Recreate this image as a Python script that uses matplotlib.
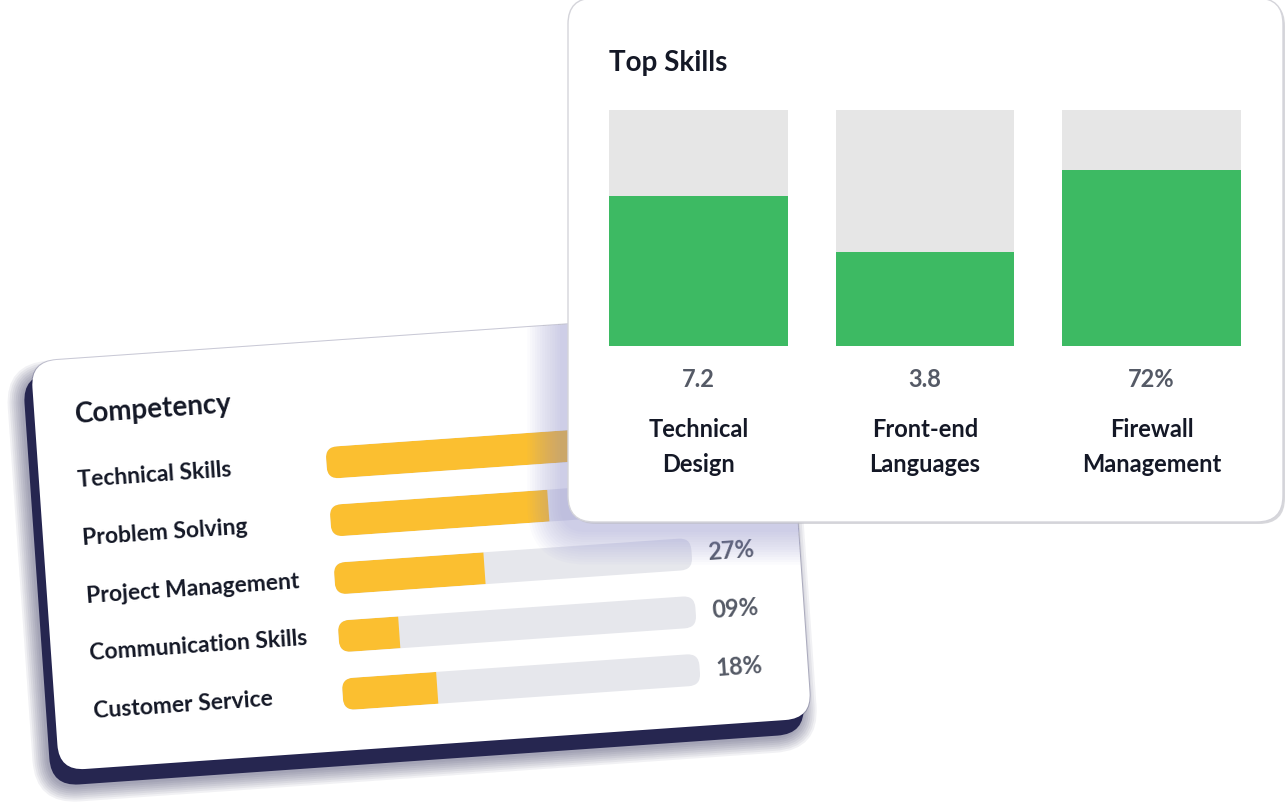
import matplotlib
matplotlib.use("Agg")
import matplotlib.pyplot as plt
from matplotlib.patches import FancyBboxPatch
from matplotlib.transforms import Affine2D

plt.rcParams["font.family"] = ["Lato", "DejaVu Sans"]

# Competency card
comp_skills = ["Technical Skills", "Problem Solving", "Project Management",
               "Communication Skills", "Customer Service"]
comp_fill = [0.72, 0.61, 0.42, 0.17, 0.265]
comp_labels = ["72%", "61%", "27%", "09%", "18%"]

# Top Skills card
top_skills = ["Technical\nDesign", "Front-end\nLanguages", "Firewall\nManagement"]
top_fill = [0.636, 0.40, 0.746]
top_labels = ["7.2", "3.8", "72%"]

YELLOW = "#fbbf30"
TRACK = "#e6e7ec"
GREEN = "#3dba63"
TRACK2 = "#e6e6e6"
DARK = "#141826"
GREY = "#555a66"

W, H = 1286, 805
fig = plt.figure(figsize=(W / 100, H / 100), dpi=100)
fig.patch.set_facecolor("white")


def px_rect(x0, y0, x1, y1):
    return [x0 / W, 1 - y1 / H, (x1 - x0) / W, (y1 - y0) / H]


def canvas_axes():
    a = fig.add_axes([0, 0, 1, 1])
    a.set_xlim(0, W)
    a.set_ylim(H, 0)
    a.axis("off")
    a.patch.set_alpha(0)
    return a


def white_card(a, x, y, w, h, tf, r=26, ec="none", lw=0):
    p = FancyBboxPatch((x, y), w, h, boxstyle=f"round,pad=0,rounding_size={r}",
                       fc="white", ec=ec, lw=lw, transform=tf, clip_on=False)
    a.add_patch(p)
    return p


# ---- Competency card (tilted) ----
ANGLE = 4.0
CX, CY = 421, 540
rot = Affine2D().rotate_deg_around(CX, H - CY, ANGLE)

canvas = canvas_axes()
card_tf = canvas.transData + rot
# faint outline and soft halo
canvas.add_patch(FancyBboxPatch((44, 335), 754, 410, boxstyle="round,pad=1,rounding_size=27",
                                fc="#c9c9d6", ec="none", transform=card_tf))
for k in range(8):
    g = 2 + k * 2
    canvas.add_patch(FancyBboxPatch((34, 351), 754, 410,
                                    boxstyle=f"round,pad={g},rounding_size={28 + g}",
                                    fc="#1b1b48", ec="none", alpha=0.06, transform=card_tf))
canvas.add_patch(FancyBboxPatch((36, 349), 754, 410, boxstyle="round,pad=1,rounding_size=28",
                                fc="#1b1b48", ec="none", alpha=0.92, transform=card_tf))
comp_card = white_card(canvas, 44, 335, 754, 410, card_tf)
canvas.text(85, 391, "Competency", transform=card_tf, rotation=ANGLE, rotation_mode="anchor",
            ha="left", va="center", fontsize=20, fontweight="bold", color=DARK)

ax_comp = fig.add_axes(px_rect(332, 427.6, 690, 717.6))
ax_comp.axis("off")
comp_tf = ax_comp.transData + rot
bar_h = 0.55
aspect = (1 / 58) / (1 / 358)
for i, (name, lab) in enumerate(zip(comp_skills, comp_labels)):
    track = FancyBboxPatch((0, i - bar_h / 2), 1.0, bar_h,
                           boxstyle="round,pad=0,rounding_size=0.0335",
                           mutation_aspect=aspect, fc=TRACK, ec="none",
                           transform=comp_tf, clip_on=False)
    ax_comp.add_patch(track)
    bar = ax_comp.barh(i, comp_fill[i], height=bar_h, color=YELLOW, transform=comp_tf)[0]
    bar.set_clip_path(track)
    bar.set_clip_box(None)
    ax_comp.text(-0.696, i, name, transform=comp_tf, rotation=ANGLE, rotation_mode="anchor",
                 ha="left", va="center", fontsize=16.5, fontweight="bold", color=DARK)
    ax_comp.text(1.11, i, lab, transform=comp_tf, rotation=ANGLE, rotation_mode="anchor",
                 ha="center", va="center", fontsize=17, fontweight="bold", color=GREY)
ax_comp.set_xlim(0, 1)
ax_comp.set_ylim(4.5, -0.5)

# ---- Top Skills card ----
canvas2 = canvas_axes()
# lavender shadow, only falling on the competency card
for k in range(14):
    g = k * 2.5
    s = FancyBboxPatch((560, 8), 715, 524, boxstyle=f"round,pad={g},rounding_size={26 + g}",
                       fc="#8f8fd0", ec="none", alpha=0.035, transform=canvas2.transData)
    canvas2.add_patch(s)
    s.set_clip_path(comp_card)
    s.set_clip_box(None)
# grey drop edge on the right / bottom
canvas2.add_patch(FancyBboxPatch((570, 0), 715, 524, boxstyle="round,pad=0,rounding_size=26",
                                 fc="#bdbdc4", ec="none", alpha=0.6, clip_on=False))
white_card(canvas2, 568, -2, 715, 524, canvas2.transData, ec="#d4d4da", lw=1.0)
canvas2.text(609, 63, "Top Skills", ha="left", va="center", fontsize=20,
             fontweight="bold", color=DARK)

ax_top = fig.add_axes(px_rect(609, 110, 1241, 346))
x = range(len(top_skills))
ax_top.bar(x, [1] * len(top_skills), width=0.79, color=TRACK2)
ax_top.bar(x, top_fill, width=0.79, color=GREEN)
ax_top.set_xlim(-0.395, len(top_skills) - 1 + 0.395)
ax_top.set_ylim(0, 1)
ax_top.axis("off")
for i, (name, lab) in enumerate(zip(top_skills, top_labels)):
    ax_top.text(i, -0.14, lab, ha="center", va="center", fontsize=17,
                fontweight="bold", color=GREY)
    for j, line in enumerate(name.split("\n")):
        ax_top.text(i, -0.352 - 0.152 * j, line, ha="center", va="center",
                    fontsize=17, fontweight="bold", color=DARK)

fig.savefig("out.png", dpi=100)
